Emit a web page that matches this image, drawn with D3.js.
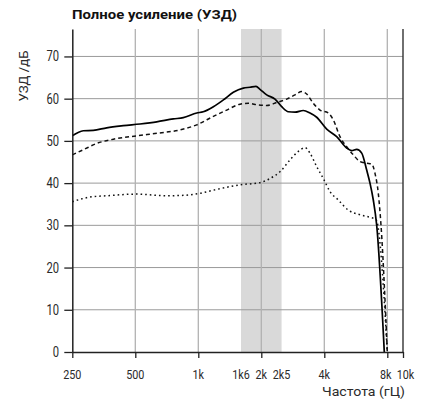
<!DOCTYPE html>
<html>
<head>
<meta charset="utf-8">
<script src="https://cdn.jsdelivr.net/npm/d3@7"></script>
<style>
  html, body { margin: 0; padding: 0; background: #fff; }
  svg { display: block; }
  .lbl { font-family: Roboto, "Liberation Sans", sans-serif; fill: #2a2a2a; }
</style>
</head>
<body>
<svg id="chart" width="428" height="402"></svg>
<script>
// Frequency response curves: [frequency in Hz, level in dB]
const fullGain = [
  [250,51.2],[282,52.4],[315,52.5],[365,53.1],[438,53.6],[527,54.0],[633,54.5],[760,55.2],
  [848,55.5],[983,56.6],[1056,56.9],[1180,58.1],[1317,59.7],[1470,61.5],[1641,62.5],[1766,62.7],
  [1887,62.9],[1971,62.2],[2122,60.9],[2325,59.9],[2503,58.1],[2692,56.9],[2898,56.8],[3175,57.2],
  [3418,56.6],[3679,55.6],[4107,52.8],[4585,51.0],[5118,48.3],[5408,47.7],[5712,48.0],[6037,47.1],
  [6377,43.1],[6613,40.0],[6858,36.0],[7120,30.0],[7740,0]
];
const dashedCurve = [
  [250,46.7],[282,47.9],[327,49.4],[393,50.4],[508,51.2],[633,51.8],[818,52.6],[983,53.8],
  [1180,55.8],[1367,57.3],[1582,58.7],[1734,58.9],[1935,58.5],[2122,58.4],[2369,59.1],[2645,59.9],
  [2898,60.9],[3119,61.7],[3296,61.1],[3543,58.9],[3815,57.3],[4180,56.6],[4416,55.0],[4753,51.0],
  [5118,48.6],[5503,46.7],[5925,45.1],[6377,44.7],[6737,44.5],[6988,42.3],[7245,37.6],[7465,30.0],
  [8000,0]
];
const dottedCurve = [
  [250,35.6],[304,36.7],[365,37.0],[508,37.4],[706,37.0],[848,37.1],[1019,37.6],[1224,38.5],
  [1582,39.6],[1971,40.1],[2200,41.1],[2457,42.7],[2743,45.5],[3005,47.5],[3235,48.4],[3418,47.1],
  [3679,43.9],[3956,41.1],[4259,38.0],[4666,36.0],[5209,33.6],[5925,32.5],[6613,31.9],[7065,31.4],
  [8000,0]
];

// Axis ticks and labels
const freqTicks = [250, 500, 1000, 2000, 4000, 8000, 10000];
const freqLabels = [[250,"250"],[500,"500"],[1000,"1k"],[1600,"1k6"],[2000,"2k"],[2500,"2k5"],[4000,"4k"],[8000,"8k"],[10000,"10k"]];
const freqGrid = [500, 1000, 2000, 4000, 8000];
const levelTicks = [0, 10, 20, 30, 40, 50, 60, 70];
const band = [1600, 2500];

const svg = d3.select("#chart");
const narrow = 0.8; // horizontal squeeze for the condensed label face

const x = d3.scaleLog().domain([250, 8000, 10000]).range([72.3, 387.3, 403]);
const y = d3.scaleLinear().domain([0, 76.5]).range([352, 29]);
const [x0, x1] = [x(250), x(10000)];
const [yb, yt] = [y(0), y(76.5)];

// Shaded speech band
svg.append("rect")
  .attr("x", x(band[0])).attr("y", yt)
  .attr("width", x(band[1]) - x(band[0])).attr("height", yb - yt)
  .attr("fill", "#d9d9d9");

// Grid
svg.append("g").selectAll("line").data(levelTicks.filter(d => d > 0)).join("line")
  .attr("x1", x0).attr("x2", x1).attr("y1", d => y(d)).attr("y2", d => y(d))
  .attr("stroke", "#9a9a9a").attr("stroke-width", 1);
svg.append("g").selectAll("line").data(freqGrid).join("line")
  .attr("x1", d => x(d)).attr("x2", d => x(d)).attr("y1", yt).attr("y2", yb)
  .attr("stroke", "#b2b2b2").attr("stroke-width", 1.3);

// Right border
svg.append("line").attr("x1", x1).attr("x2", x1).attr("y1", yt).attr("y2", yb)
  .attr("stroke", "#333").attr("stroke-width", 1.4);

// Curves
const line = d3.line().x(d => x(d[0])).y(d => y(d[1])).curve(d3.curveMonotoneX);
svg.append("path").datum(dottedCurve).attr("d", line)
  .attr("fill", "none").attr("stroke", "#111").attr("stroke-width", 1.5)
  .attr("stroke-dasharray", "1.6,3");
svg.append("path").datum(dashedCurve).attr("d", line)
  .attr("fill", "none").attr("stroke", "#111").attr("stroke-width", 1.5)
  .attr("stroke-dasharray", "4,3");
svg.append("path").datum(fullGain).attr("d", line)
  .attr("fill", "none").attr("stroke", "#000").attr("stroke-width", 1.7);

// Bottom axis
const xAxis = svg.append("g").attr("transform", `translate(0,${yb})`)
  .call(d3.axisBottom(x).tickValues(freqTicks).tickFormat("").tickSize(6).tickSizeOuter(0));
xAxis.select(".domain").attr("stroke", "#222").attr("stroke-width", 1.5);
xAxis.selectAll(".tick line").attr("stroke", "#222").attr("stroke-width", 1.3);

// The last two labels sit close together, so nudge them apart slightly
const nudge = f => (f === 10000 ? 2.5 : f === 8000 ? -1.5 : 0);
svg.append("g").selectAll("text").data(freqLabels).join("text")
  .attr("class", "lbl")
  .attr("transform", d => `translate(${x(d[0]) + nudge(d[0])},378.5) scale(${narrow},1)`)
  .attr("text-anchor", "middle").attr("font-size", 13.5)
  .text(d => d[1]);

// Left axis
const yAxis = svg.append("g").attr("transform", `translate(${x0},0)`)
  .call(d3.axisLeft(y).tickValues(levelTicks).tickSize(8).tickSizeOuter(0).tickFormat(""));
yAxis.select(".domain").attr("stroke", "#222").attr("stroke-width", 1.5);
yAxis.selectAll(".tick line").attr("stroke", "#222").attr("stroke-width", 1.3);

svg.append("g").selectAll("text").data(levelTicks).join("text")
  .attr("class", "lbl")
  .attr("transform", d => `translate(59,${y(d) + 5}) scale(${narrow},1)`)
  .attr("text-anchor", "end").attr("font-size", 14)
  .text(d => d);

// Titles
svg.append("text")
  .attr("x", 72).attr("y", 18.5)
  .attr("font-family", "Roboto, 'Liberation Sans', sans-serif")
  .attr("font-weight", "bold").attr("font-size", 12).attr("fill", "#111")
  .attr("textLength", 165).attr("lengthAdjust", "spacingAndGlyphs")
  .text("Полное усиление (УЗД)");

svg.append("text").attr("class", "lbl")
  .attr("transform", "translate(27.5,76) rotate(-90)")
  .attr("text-anchor", "middle").attr("font-size", 12.5)
  .attr("textLength", 51).attr("lengthAdjust", "spacingAndGlyphs")
  .text("УЗД /дБ");

svg.append("text").attr("class", "lbl")
  .attr("x", 405).attr("y", 395.5)
  .attr("text-anchor", "end").attr("font-size", 13.5)
  .attr("textLength", 83).attr("lengthAdjust", "spacingAndGlyphs")
  .text("Частота (гЦ)");
</script>
</body>
</html>
